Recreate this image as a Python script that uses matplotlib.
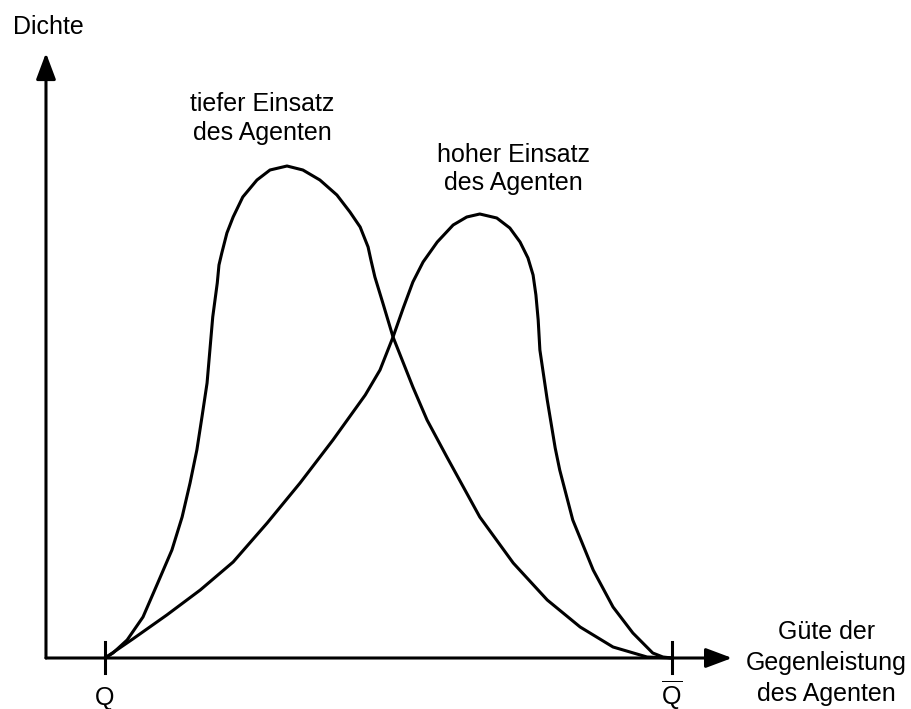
import matplotlib.pyplot as plt

plt.rcParams['font.family'] = ['Liberation Sans', 'DejaVu Sans']
plt.rcParams['mathtext.fontset'] = 'custom'
plt.rcParams['mathtext.rm'] = 'Liberation Sans'

# density curves, quality from Q (0) to Q-bar (10)
x_low = [0, 0.14, 0.39, 0.67, 0.93, 1.18, 1.36, 1.50, 1.62, 1.71, 1.80, 1.85, 1.90,
         1.98, 2.01, 2.06, 2.15, 2.26, 2.43, 2.68, 2.91, 3.21, 3.49, 3.79, 4.09,
         4.32, 4.50, 4.64, 4.69, 4.76, 4.90, 5.08, 5.43, 5.68, 6.03, 6.61, 7.20,
         7.80, 8.38, 8.96, 9.56, 10]
y_low = [0, 0.10, 0.36, 0.82, 1.50, 2.16, 2.82, 3.50, 4.16, 4.82, 5.50, 6.16, 6.82,
         7.50, 7.86, 8.10, 8.50, 8.82, 9.22, 9.56, 9.76, 9.84, 9.76, 9.56, 9.26,
         8.92, 8.62, 8.22, 7.96, 7.62, 7.10, 6.42, 5.42, 4.76, 4.02, 2.82, 1.90,
         1.16, 0.62, 0.22, 0.02, 0]

x_high = [0, 0.49, 1.09, 1.68, 2.26, 2.86, 3.44, 4.02, 4.59, 4.85, 5.08, 5.26, 5.43,
          5.61, 5.86, 6.14, 6.38, 6.61, 6.91, 7.14, 7.32, 7.46, 7.55, 7.60, 7.64,
          7.67, 7.80, 7.94, 8.02, 8.25, 8.61, 8.96, 9.31, 9.66, 9.84, 10]
y_high = [0, 0.38, 0.86, 1.36, 1.92, 2.70, 3.50, 4.36, 5.26, 5.76, 6.42, 7.00, 7.52,
          7.92, 8.32, 8.66, 8.82, 8.88, 8.80, 8.60, 8.32, 8.00, 7.66, 7.26, 6.76,
          6.16, 5.16, 4.20, 3.76, 2.76, 1.76, 1.02, 0.50, 0.10, 0.02, 0]

fig = plt.figure(figsize=(9.12, 7.09), dpi=100)
ax = fig.add_axes([0, 0, 1, 1])
ax.set_xlim(-1.852, 14.233)
ax.set_ylim(-1.02, 13.16)
ax.axis('off')

lw = 2.2
ax.plot(x_low, y_low, color='black', lw=lw, solid_joinstyle='round')
ax.plot(x_high, y_high, color='black', lw=lw, solid_joinstyle='round')

# axes with arrows
arrow = dict(arrowstyle='-|>,head_length=0.8,head_width=0.3', color='black',
             lw=lw, mutation_scale=20, shrinkA=0, shrinkB=0)
ax.annotate('', xy=(-1.041, 12.1), xytext=(-1.041, 0), arrowprops=arrow)
ax.annotate('', xy=(11.06, 0), xytext=(-1.041, 0), arrowprops=arrow)

# ticks at Q and Q-bar
for xt in [0, 10]:
    ax.plot([xt, xt], [-0.3, 0.32], color='black', lw=lw)

fs = 18
ax.text(0, -0.8, 'Q', ha='center', va='center', fontsize=fs)
ax.text(10, -0.74, r'$\overline{\mathrm{Q}}$', ha='center', va='center', fontsize=fs)

ax.text(-1.63, 12.62, 'Dichte', ha='left', va='center', fontsize=fs)
ax.text(2.77, 10.79, 'tiefer Einsatz\ndes Agenten', ha='center', va='center',
        fontsize=fs, linespacing=1.29)
ax.text(7.2, 9.78, 'hoher Einsatz\ndes Agenten', ha='center', va='center',
        fontsize=fs, linespacing=1.25)
ax.text(12.72, -0.1, 'Güte der\nGegenleistung\ndes Agenten', ha='center',
        va='center', fontsize=fs, linespacing=1.38)

fig.savefig('out.png', dpi=100)
